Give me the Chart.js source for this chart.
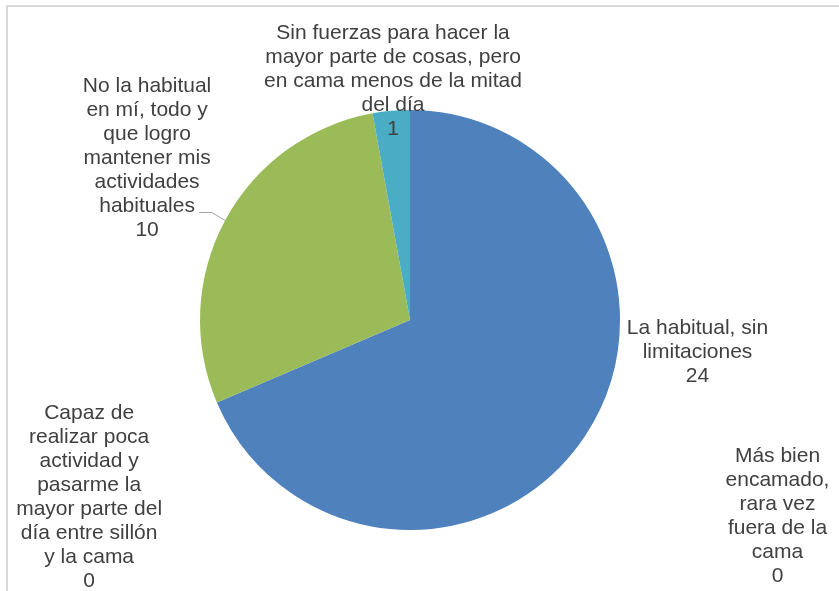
<!DOCTYPE html>
<html>
<head>
<meta charset="utf-8">
<script src="https://cdn.jsdelivr.net/npm/chart.js@4"></script>
<style>
  html, body { margin: 0; padding: 0; background: #fff; }
  #wrap { position: relative; width: 839px; height: 591px; }
</style>
</head>
<body>
<div id="wrap"><canvas id="c" width="839" height="591"></canvas></div>
<script>
// Category names, already broken into the lines they are printed on
const categories = [
  ['La habitual, sin', 'limitaciones'],
  ['No la habitual', 'en mí, todo y', 'que logro', 'mantener mis', 'actividades', 'habituales'],
  ['Sin fuerzas para hacer la', 'mayor parte de cosas, pero', 'en cama menos de la mitad', 'del día'],
  ['Capaz de', 'realizar poca', 'actividad y', 'pasarme la', 'mayor parte del', 'día entre sillón', 'y la cama'],
  ['Más bien', 'encamado,', 'rara vez', 'fuera de la', 'cama']
];
const values = [24, 10, 1, 0, 0];

const sliceColors = ['#4F81BD', '#9BBB59', '#4BACC6', '#8064A2', '#F79646'];
// Label block centres, measured in pie radii from the pie centre
const labelOffsets = [[1.369, 0.152], [-1.252, -0.769], [-0.081, -1.138], [-1.528, 0.843], [1.75, 0.933]];
// Slices whose label is tied to the pie edge by a leader line
const withLeader = [false, true, false, false, false];

const frame = {
  id: 'frame',
  beforeDraw(chart) {
    const ctx = chart.ctx;
    ctx.save();
    ctx.fillStyle = '#d9d9d9';
    ctx.fillRect(6, 5, chart.width - 6, 2);
    ctx.fillRect(6, 5, 2, chart.height - 5);
    ctx.restore();
  }
};

const sliceLabels = {
  id: 'sliceLabels',
  afterDatasetsDraw(chart) {
    const ctx = chart.ctx;
    const meta = chart.getDatasetMeta(0);
    const a0 = meta.data[0];
    const cx = a0.x, cy = a0.y, r = a0.outerRadius;
    const lh = 24;
    ctx.save();
    ctx.font = '21px "Liberation Sans", Arial, sans-serif';
    ctx.fillStyle = '#404040';
    ctx.textAlign = 'center';
    ctx.textBaseline = 'middle';
    categories.forEach((lines, i) => {
      const all = lines.concat([String(values[i])]);
      const bx = cx + labelOffsets[i][0] * r;
      const by = cy + labelOffsets[i][1] * r;
      const y0 = by - (all.length - 1) * lh / 2;
      all.forEach((t, k) => ctx.fillText(t, bx, y0 + k * lh));
      if (withLeader[i]) {
        const last = lines[lines.length - 1];
        const ly = y0 + (lines.length - 1) * lh + 6;
        const sx = bx + ctx.measureText(last).width / 2 + 4;
        const arc = meta.data[i];
        const mid = (arc.startAngle + arc.endAngle) / 2;
        const ex = cx + r * Math.cos(mid), ey = cy + r * Math.sin(mid);
        ctx.save();
        ctx.strokeStyle = '#a6a6a6';
        ctx.lineWidth = 1;
        ctx.beginPath();
        ctx.moveTo(sx, ly);
        ctx.lineTo(sx + 13, ly);
        ctx.lineTo(ex, ey);
        ctx.stroke();
        ctx.restore();
      }
    });
    ctx.restore();
  }
};

new Chart(document.getElementById('c'), {
  type: 'pie',
  data: {
    labels: categories,
    datasets: [{
      data: values,
      backgroundColor: sliceColors,
      borderWidth: 0
    }]
  },
  options: {
    responsive: false,
    animation: false,
    devicePixelRatio: 1,
    layout: { padding: { top: 110, bottom: 61, left: 200, right: 219 } },
    plugins: {
      legend: { display: false },
      tooltip: { enabled: false }
    }
  },
  plugins: [frame, sliceLabels]
});
</script>
</body>
</html>
